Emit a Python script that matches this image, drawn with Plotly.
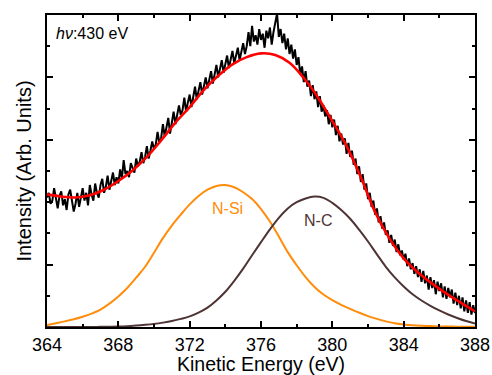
import plotly.graph_objects as go

# ---- data ----
# measured spectrum, 364.0 .. 388.0 eV in 0.1 eV steps
data_start = 364.0
data_step = 0.1
intensity = [
    4.15, 4.30, 3.95, 4.05, 4.45, 4.10, 3.80, 4.20, 4.35, 3.90,
    4.10, 3.75, 4.25, 4.40, 4.00, 3.70, 3.95, 4.30, 3.85, 4.20,
    4.45, 4.05, 4.30, 3.90, 4.55, 4.25, 4.05, 4.60, 4.30, 4.15,
    4.55, 4.75, 4.30, 4.50, 4.85, 4.40, 4.65, 4.95, 4.55, 4.80,
    4.60, 5.05, 4.75, 5.35, 4.90, 5.00, 4.80, 5.25, 5.10, 4.95,
    5.40, 5.15, 5.30, 5.60, 5.25, 5.45, 5.80, 5.40, 5.65, 5.95,
    5.70, 5.85, 6.25, 5.90, 6.05, 6.50, 6.10, 6.35, 6.70, 6.20,
    6.55, 6.90, 6.50, 6.75, 7.10, 6.80, 6.95, 7.35, 6.90, 7.20,
    7.45, 7.05, 7.35, 7.70, 7.30, 7.55, 7.85, 7.45, 7.70, 8.00,
    7.65, 7.95, 8.20, 7.80, 8.10, 8.40, 8.00, 8.25, 8.55, 8.15,
    8.40, 8.70, 8.30, 8.55, 8.85, 8.45, 8.70, 8.95, 8.55, 8.80,
    9.10, 8.75, 9.00, 9.45, 9.00, 9.65, 9.15, 9.35, 9.05, 9.55,
    9.20, 9.40, 8.95, 9.50, 9.25, 9.60, 9.05, 9.45, 9.70, 10.05,
    9.30, 9.55, 9.10, 9.40, 8.90, 9.25, 8.75, 9.05, 8.60, 8.90,
    8.40, 8.65, 8.10, 8.35, 7.85, 8.20, 7.70, 7.90, 7.40, 7.75,
    7.30, 7.55, 7.05, 7.40, 6.90, 7.10, 6.75, 6.95, 6.50, 6.80,
    6.40, 6.65, 6.15, 6.45, 5.95, 6.20, 5.85, 6.05, 5.55, 5.90,
    5.45, 5.65, 5.20, 5.40, 4.90, 5.15, 4.65, 4.90, 4.40, 4.60,
    4.10, 4.30, 3.85, 4.05, 3.60, 3.80, 3.35, 3.55, 3.15, 3.35,
    2.95, 3.10, 2.70, 2.95, 2.60, 2.80, 2.40, 2.65, 2.30, 2.45,
    2.15, 2.35, 1.95, 2.20, 1.85, 2.05, 1.70, 1.95, 1.60, 1.85,
    1.45, 1.80, 1.40, 1.65, 1.20, 1.60, 1.25, 1.50, 1.05, 1.45,
    1.15, 1.40, 0.95, 1.30, 0.90, 1.25, 0.95, 1.20, 0.75, 1.10,
    0.70, 1.00, 0.60, 0.95, 0.50, 0.85, 0.45, 0.80, 0.40, 0.70,
    0.45,
]
energy = [round(data_start + i * data_step, 2) for i in range(len(intensity))]

# total fit envelope
fit_energy = [364.0, 364.8, 365.6, 366.4, 367.2, 368.0, 368.8, 369.6, 370.4, 371.2,
              372.0, 372.8, 373.6, 374.4, 375.2, 376.0, 376.8, 377.6, 378.4, 379.2,
              380.0, 380.8, 381.6, 382.4, 383.2, 384.0, 384.8, 385.6, 386.4, 387.2, 388.0]
fit_total = [4.25, 4.18, 4.15, 4.22, 4.40, 4.68, 5.02, 5.45, 5.98, 6.55,
             7.05, 7.60, 8.05, 8.42, 8.65, 8.77, 8.72, 8.47, 7.98, 7.35,
             6.60, 5.80, 4.80, 3.68, 2.84, 2.20, 1.75, 1.39, 1.07, 0.78, 0.50]

# component peaks, 0.5 eV steps from 364.0 eV
comp_energy = [364.0 + 0.5 * i for i in range(49)]
n_si = [0.06, 0.12, 0.18, 0.25, 0.33, 0.43, 0.56, 0.75, 0.98, 1.25,
        1.58, 1.93, 2.38, 2.85, 3.25, 3.60, 3.93, 4.20, 4.40, 4.52,
        4.55, 4.48, 4.32, 4.10, 3.78, 3.38, 2.90, 2.40, 1.98, 1.60,
        1.28, 1.04, 0.86, 0.71, 0.58, 0.46, 0.35, 0.26, 0.18, 0.12,
        0.08, 0.055, 0.04, 0.03, 0.02, 0.015, 0.01, 0.01, 0.01]
n_c = [0.0, 0.0, 0.0, 0.0, 0.0, 0.0, 0.005, 0.01, 0.015, 0.025,
       0.045, 0.07, 0.10, 0.14, 0.19, 0.26, 0.34, 0.46, 0.62, 0.85,
       1.13, 1.48, 1.87, 2.30, 2.72, 3.13, 3.50, 3.80, 4.00, 4.12,
       4.18, 4.14, 3.98, 3.75, 3.47, 3.12, 2.74, 2.33, 1.93, 1.59,
       1.30, 1.05, 0.85, 0.68, 0.53, 0.40, 0.29, 0.19, 0.11]

x_ticks = [364, 368, 372, 376, 380, 384, 388]

ORANGE = "#ff8c0a"
BROWN = "#4e3434"
RED = "#ff0000"
FONT = "Liberation Sans, Arial, sans-serif"

fig = go.Figure()
fig.add_trace(go.Scatter(x=energy, y=intensity, mode="lines",
                         line=dict(color="black", width=2), showlegend=False))
fig.add_trace(go.Scatter(x=comp_energy, y=n_si, mode="lines",
                         line=dict(color=ORANGE, width=2, shape="spline"), showlegend=False))
fig.add_trace(go.Scatter(x=comp_energy, y=n_c, mode="lines",
                         line=dict(color=BROWN, width=2, shape="spline"), showlegend=False))
fig.add_trace(go.Scatter(x=fit_energy, y=fit_total, mode="lines",
                         line=dict(color=RED, width=2.6, shape="spline"), showlegend=False))

fig.add_annotation(x=0.016, y=0.942, xref="paper", yref="paper", xanchor="left", yanchor="middle",
                   text="<i>hν</i>:430 eV", showarrow=False,
                   font=dict(family=FONT, size=16, color="black"))
fig.add_annotation(x=374.1, y=3.8, text="N-Si", showarrow=False,
                   font=dict(family=FONT, size=16, color=ORANGE))
fig.add_annotation(x=379.2, y=3.4, text="N-C", showarrow=False,
                   font=dict(family=FONT, size=16, color=BROWN))

fig.update_layout(
    width=492, height=375,
    margin=dict(l=47, r=17, t=15, b=48),
    paper_bgcolor="white", plot_bgcolor="white",
    font=dict(family=FONT, color="black"),
    xaxis=dict(range=[364, 388], tickvals=x_ticks, ticktext=[str(v) for v in x_ticks],
               ticks="inside", ticklen=6, tickwidth=1.5, tickcolor="black",
               showline=True, linecolor="black", linewidth=2, mirror="allticks",
               showgrid=False, zeroline=False, automargin=False,
               tickfont=dict(size=18, family=FONT),
               title=dict(text="Kinetic Energy (eV)", font=dict(size=19.5, family=FONT), standoff=2),
               minor=dict(dtick=2, tick0=364, ticks="inside", ticklen=3, tickwidth=1.5,
                          tickcolor="black", showgrid=False)),
    yaxis=dict(range=[0, 10], dtick=2, tick0=0, showticklabels=False,
               ticks="inside", ticklen=6, tickwidth=1.5, tickcolor="black",
               showline=True, linecolor="black", linewidth=2, mirror="allticks",
               showgrid=False, zeroline=False, automargin=False,
               title=dict(text="Intensity (Arb. Units)", font=dict(size=20, family=FONT), standoff=8),
               minor=dict(dtick=1, tick0=0, ticks="inside", ticklen=3, tickwidth=1.5,
                          tickcolor="black", showgrid=False)),
)

fig.write_html("out.html")
